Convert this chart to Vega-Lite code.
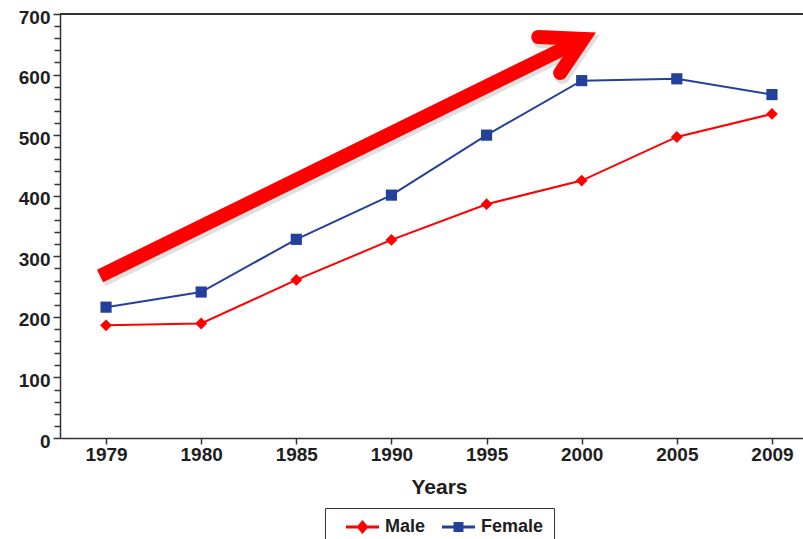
{
  "$schema": "https://vega.github.io/schema/vega-lite/v6.json",
  "autosize": {"type": "none"},
  "padding": {"left": 60, "top": 14, "right": 0, "bottom": 101},
  "width": 758,
  "height": 424,
  "background": "white",
  "config": {
    "font": "Liberation Sans",
    "view": {"stroke": null},
    "axis": {
      "domain": true,
      "domainColor": "#333333",
      "domainWidth": 1.5,
      "grid": false,
      "tickColor": "#333333",
      "tickWidth": 1.5,
      "labelFont": "Liberation Sans",
      "labelFontWeight": "bold",
      "labelColor": "#1e1e1e",
      "titleFont": "Liberation Sans",
      "titleFontWeight": "bold",
      "titleColor": "#1e1e1e"
    },
    "axisY": {
      "title": null,
      "tickCount": 35,
      "labelFontSize": 19,
      "labelPadding": 3,
      "labelOffset": 3,
      "tickSize": 6
    },
    "legend": {
      "labelFont": "Liberation Sans",
      "labelFontWeight": "bold",
      "labelFontSize": 18,
      "labelColor": "#1e1e1e"
    }
  },
  "datasets": {
    "rates": [
      {"year": "1979", "sex": "Male", "value": 186},
      {"year": "1980", "sex": "Male", "value": 189},
      {"year": "1985", "sex": "Male", "value": 261},
      {"year": "1990", "sex": "Male", "value": 327},
      {"year": "1995", "sex": "Male", "value": 386},
      {"year": "2000", "sex": "Male", "value": 425},
      {"year": "2005", "sex": "Male", "value": 497},
      {"year": "2009", "sex": "Male", "value": 535},
      {"year": "1979", "sex": "Female", "value": 216},
      {"year": "1980", "sex": "Female", "value": 241},
      {"year": "1985", "sex": "Female", "value": 328},
      {"year": "1990", "sex": "Female", "value": 401},
      {"year": "1995", "sex": "Female", "value": 500},
      {"year": "2000", "sex": "Female", "value": 590},
      {"year": "2005", "sex": "Female", "value": 593},
      {"year": "2009", "sex": "Female", "value": 567}
    ],
    "trend_arrow": [
      {"part": "shaft", "seq": 1, "pos": -0.063, "level": 267.5},
      {"part": "shaft", "seq": 2, "pos": 4.984, "level": 656.3},
      {"part": "head", "seq": 1, "pos": 4.543, "level": 662.0},
      {"part": "head", "seq": 2, "pos": 5.016, "level": 658.7},
      {"part": "head", "seq": 3, "pos": 4.774, "level": 602.6}
    ]
  },
  "layer": [
    {
      "data": {"name": "rates"},
      "layer": [
        {
          "mark": {"type": "line", "strokeWidth": 2},
          "encoding": {
            "x": {
              "field": "year", "type": "ordinal",
              "scale": {"type": "point", "padding": 0.484},
              "axis": {
                "title": "Years",
                "labelAngle": 0,
                "labelFontSize": 19,
                "labelPadding": 1,
                "tickSize": 6,
                "titleFontSize": 21,
                "titlePadding": 12
              }
            },
            "y": {
              "field": "value", "type": "quantitative",
              "scale": {"domain": [0, 700], "nice": false},
              "axis": {
                "title": null,
                "labelExpr": "datum.value % 100 === 0 ? datum.label : ''",
                "tickSize": {"condition": {"test": "datum.value % 100 === 0", "value": 7}, "value": 6}
              }
            },
            "color": {
              "field": "sex", "type": "nominal",
              "scale": {"domain": ["Male", "Female"], "range": ["#ff0000", "#23409a"]},
              "legend": {
                "title": null,
                "orient": "none",
                "legendX": 265,
                "legendY": 494,
                "direction": "horizontal",
                "padding": 10,
                "strokeColor": "#333333",
                "symbolSize": 144,
                "symbolStrokeWidth": 0,
                "symbolOffset": 8,
                "labelOffset": 24,
                "columnPadding": 5,
                "encode": {
                  "symbols": {
                    "update": {
                      "shape": {"signal": "datum.value === 'Male' ? 'M-1,-0.25H4.5V0.25H-1Z M1.75,-1.15L2.75,0L1.75,1.15L0.75,0Z' : 'M-1,-0.25H4.5V0.25H-1Z M0.92,-0.83H2.58V0.83H0.92Z'"},
                      "fill": {"scale": "color", "field": "value"},
                      "strokeWidth": {"value": 0}
                    }
                  }
                }
              }
            }
          }
        },
        {
          "transform": [{"filter": "datum.sex === 'Male'"}],
          "mark": {"type": "point", "shape": "diamond", "filled": true, "opacity": 1, "size": 140, "color": "#ff0000"},
          "encoding": {
            "x": {"field": "year", "type": "ordinal"},
            "y": {"field": "value", "type": "quantitative", "axis": {"title": null, "labelExpr": "datum.value % 100 === 0 ? datum.label : ''", "tickSize": {"condition": {"test": "datum.value % 100 === 0", "value": 7}, "value": 6}}}
          }
        },
        {
          "transform": [{"filter": "datum.sex === 'Female'"}],
          "mark": {"type": "point", "shape": "square", "filled": true, "opacity": 1, "size": 125, "color": "#23409a"},
          "encoding": {
            "x": {"field": "year", "type": "ordinal"},
            "y": {"field": "value", "type": "quantitative", "axis": {"title": null, "labelExpr": "datum.value % 100 === 0 ? datum.label : ''", "tickSize": {"condition": {"test": "datum.value % 100 === 0", "value": 7}, "value": 6}}}
          }
        },
        {
          "mark": {"type": "rule", "color": "#333333", "strokeWidth": 1.5},
          "encoding": {"y": {"datum": 700, "type": "quantitative", "axis": {"title": null, "labelExpr": "datum.value % 100 === 0 ? datum.label : ''", "tickSize": {"condition": {"test": "datum.value % 100 === 0", "value": 7}, "value": 6}}}}
        }
      ]
    },
    {
      "data": {"name": "trend_arrow"},
      "encoding": {
        "x": {"field": "pos", "type": "quantitative", "scale": {"domain": [-0.484, 7.484], "nice": false, "zero": false}, "axis": null},
        "y": {"field": "level", "type": "quantitative", "axis": {"title": null, "labelExpr": "datum.value % 100 === 0 ? datum.label : ''", "tickSize": {"condition": {"test": "datum.value % 100 === 0", "value": 7}, "value": 6}}},
        "order": {"field": "seq"}
      },
      "layer": [
        {
          "transform": [{"filter": "datum.part === 'shaft'"}],
          "mark": {"type": "line", "color": "#000000", "opacity": 0.12, "strokeWidth": 16, "strokeCap": "butt", "xOffset": 2, "yOffset": 3}
        },
        {
          "transform": [{"filter": "datum.part === 'head'"}],
          "mark": {"type": "line", "color": "#000000", "opacity": 0.12, "strokeWidth": 16, "strokeCap": "round", "strokeJoin": "miter", "strokeMiterLimit": 10, "xOffset": 2, "yOffset": 3}
        },
        {
          "transform": [{"filter": "datum.part === 'shaft'"}],
          "mark": {"type": "line", "color": "#ff0000", "strokeWidth": 14, "strokeCap": "butt"}
        },
        {
          "transform": [{"filter": "datum.part === 'head'"}],
          "mark": {"type": "line", "color": "#ff0000", "strokeWidth": 14, "strokeCap": "round", "strokeJoin": "miter", "strokeMiterLimit": 10}
        }
      ]
    }
  ],
  "resolve": {"scale": {"x": "independent"}}
}
